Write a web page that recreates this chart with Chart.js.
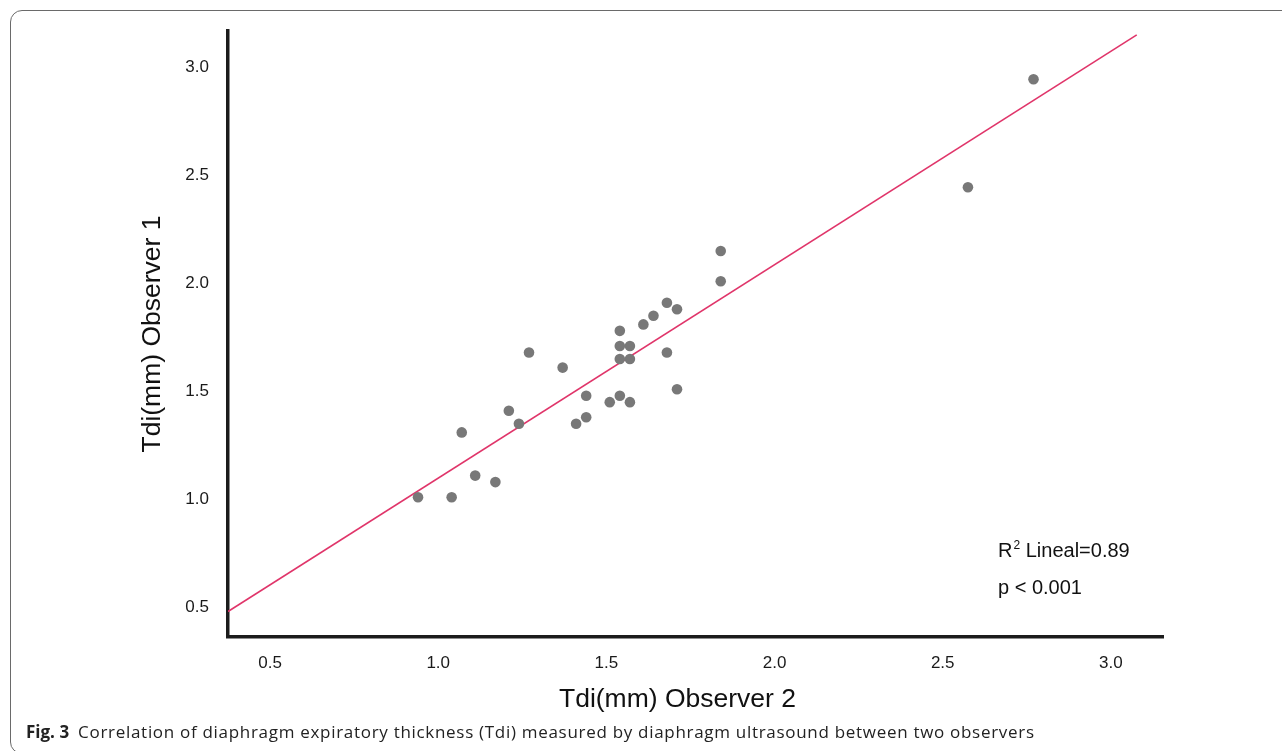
<!DOCTYPE html>
<html>
<head>
<meta charset="utf-8">
<script src="https://cdn.jsdelivr.net/npm/chart.js@4.4.1/dist/chart.umd.min.js"></script>
<style>
  html, body { margin: 0; padding: 0; background: #fff; }
  body { width: 1282px; height: 751px; position: relative; overflow: hidden; }
  #wrap { position: absolute; left: 0; top: 0; width: 1282px; height: 751px; }
  #frame {
    position: absolute; left: 10px; top: 10px; width: 1320px; height: 742px;
    border: 1.4px solid #6a6a6a; border-radius: 12px; pointer-events: none;
  }
  .note {
    position: absolute; font-family: "Liberation Sans", Arial, sans-serif;
    font-size: 20px; line-height: 20px; color: #111; white-space: nowrap;
  }
  .note sup { font-size: 12px; line-height: 0; vertical-align: 8px; margin-left: 1px; }
  #caption {
    position: absolute; left: 26px; top: 723px; font-family: "Open Sans", sans-serif;
    font-size: 17px; line-height: 17px; color: #222; white-space: nowrap; letter-spacing: 0.7px;
  }
  #caption b { font-weight: 700; margin-right: 9px; letter-spacing: 0; }
</style>
</head>
<body>
<div id="wrap"><canvas id="chart"></canvas></div>
<div id="frame"></div>
<div class="note" style="left:998px; top:540px;">R<sup>2</sup> Lineal=0.89</div>
<div class="note" style="left:998px; top:577px;">p &lt; 0.001</div>
<div id="caption"><b>Fig. 3</b>Correlation of diaphragm expiratory thickness (Tdi) measured by diaphragm ultrasound between two observers</div>
<script>
// Tdi readings, observer 2 (x) vs observer 1 (y)
const obs2 = [2.77, 2.575, 1.84, 1.84, 1.68, 1.71, 1.64, 1.61, 1.54, 1.54,
              1.57, 1.54, 1.57, 1.68, 1.27, 1.37, 1.71, 1.44, 1.54, 1.51,
              1.57, 1.44, 1.41, 1.21, 1.24, 1.07, 1.11, 1.17, 0.94, 1.04];
const obs1 = [2.945, 2.445, 2.15, 2.01, 1.91, 1.88, 1.85, 1.81, 1.78, 1.71,
              1.71, 1.65, 1.65, 1.68, 1.68, 1.61, 1.51, 1.48, 1.48, 1.45,
              1.45, 1.38, 1.35, 1.41, 1.35, 1.31, 1.11, 1.08, 1.01, 1.01];

// fitted line end points
const fitX = [0.375, 3.077];
const fitY = [0.481, 3.150];

const xTicks = [0.5, 1.0, 1.5, 2.0, 2.5, 3.0];
const yTicks = [0.5, 1.0, 1.5, 2.0, 2.5, 3.0];

const xTitle = "Tdi(mm) Observer 2";
const yTitle = "Tdi(mm) Observer 1";

const tickFont = { family: "'Liberation Sans', Arial, sans-serif", size: 17 };
const titleFont = { family: "'Liberation Sans', Arial, sans-serif", size: 26.5 };

// x title sits a bit left of the plot centre in the original
const xTitlePlugin = {
  id: "xTitle",
  afterDraw(chart) {
    const { ctx, chartArea } = chart;
    ctx.save();
    ctx.font = titleFont.size + "px " + titleFont.family;
    ctx.fillStyle = "#111";
    ctx.textAlign = "center";
    ctx.textBaseline = "middle";
    ctx.fillText(xTitle, (chartArea.left + chartArea.right) / 2 - 18, chartArea.bottom + 63);
    ctx.restore();
  },
};

const ctx = document.getElementById("chart").getContext("2d");
const myChart = new Chart(ctx, {
  data: {
    datasets: [
      {
        type: "line",
        data: fitX.map((x, i) => ({ x: x, y: fitY[i] })),
        borderColor: "#e0356a",
        borderWidth: 1.6,
        pointRadius: 0,
        fill: false,
        order: 2,
      },
      {
        type: "scatter",
        data: obs2.map((x, i) => ({ x: x, y: obs1[i] })),
        backgroundColor: "#787878",
        borderWidth: 0,
        pointRadius: 5.3,
        order: 1,
      },
    ],
  },
  options: {
    responsive: true,
    maintainAspectRatio: false,
    animation: false,
    layout: { padding: { top: 31, right: 119, left: 0, bottom: 0 } },
    plugins: { legend: { display: false }, tooltip: { enabled: false } },
    scales: {
      x: {
        type: "linear",
        min: 0.375,
        max: 3.155,
        afterBuildTicks: (scale) => { scale.ticks = xTicks.map(v => ({ value: v })); },
        afterFit: (scale) => { scale.height = 114; },
        grid: { display: false, drawTicks: false },
        border: { display: true, color: "#1c1c1c", width: 3.5 },
        ticks: { font: tickFont, color: "#1a1a1a", padding: 16, maxRotation: 0,
                 callback: (v) => Number(v).toFixed(1) },
        title: { display: false },
      },
      y: {
        type: "linear",
        min: 0.363,
        max: 3.168,
        afterBuildTicks: (scale) => { scale.ticks = yTicks.map(v => ({ value: v })); },
        afterFit: (scale) => { scale.width = 228; },
        grid: { display: false, drawTicks: false },
        border: { display: true, color: "#1c1c1c", width: 3.5 },
        ticks: { font: tickFont, color: "#1a1a1a", padding: 19,
                 callback: (v) => Number(v).toFixed(1) },
        title: { display: true, text: yTitle, font: titleFont, color: "#111",
                 padding: { top: 137, bottom: 0 } },
      },
    },
  },
  plugins: [xTitlePlugin],
});
</script>
</body>
</html>
